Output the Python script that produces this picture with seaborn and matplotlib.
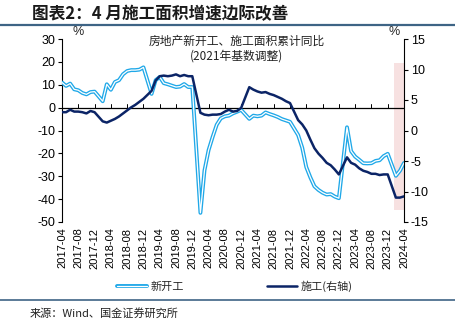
import matplotlib
matplotlib.use("Agg")
import matplotlib.pyplot as plt
import matplotlib.patheffects as pe
from matplotlib.lines import Line2D
import seaborn as sns
import pandas as pd
import numpy as np

sns.set_theme(style="white")
plt.rcParams['font.family'] = ['Liberation Sans', 'Noto Sans CJK SC', 'DejaVu Sans']
plt.rcParams['axes.unicode_minus'] = False
CJK = ['Noto Sans CJK SC', 'DejaVu Sans']

# Months (Jan-Feb reported together, so January is absent)
months = [m for m in pd.date_range('2017-04-01', '2024-04-01', freq='MS') if m.month != 1]

new_starts = [
    11.0, 9.5, 10.5, 8.0, 7.6, 6.4, 5.8, 6.8, 7.0,                          # 2017
    2.8, 10.2, 7.8, 11.2, 12.0, 14.6, 16.0, 16.4, 16.4, 16.6, 17.6,         # 2018
    6.0, 12.0, 13.4, 10.7, 10.2, 9.6, 9.0, 9.2, 10.3, 9.0, 9.0,             # 2019
    -46.0, -27.4, -18.6, -12.8, -7.5, -4.7, -3.8, -3.5, -2.5, -1.8, -1.0,   # 2020
    -4.9, -3.5, -3.8, -3.5, -2.1, -2.8, -3.4, -4.1, -5.0, -5.6, -6.2,       # 2021
    -12.0, -17.5, -26.0, -30.5, -34.4, -36.0, -37.2, -38.0, -37.8, -38.9, -39.6,  # 2022
    -8.6, -19.0, -21.4, -22.8, -24.3, -24.4, -24.3, -23.3, -23.0, -21.2, -20.2,   # 2023
    -29.8, -27.6, -24.2,                                                     # 2024
]
construction = [
    3.0, 3.0, 3.4, 3.1, 3.1, 3.0, 2.8, 3.2, 3.0,
    1.5, 1.3, 1.6, 1.9, 2.3, 2.8, 3.3, 3.8, 4.2, 4.7, 5.2,
    6.5, 8.2, 8.9, 9.0, 8.9, 9.0, 9.2, 8.9, 9.1, 8.9, 8.9,
    2.9, 2.6, 2.5, 2.6, 2.6, 2.7, 3.1, 3.4, 3.1, 3.2, 3.7,
    7.1, 6.7, 6.4, 6.2, 6.3, 6.0, 5.8, 5.5, 5.2, 4.8, 4.5,
    1.7, 1.0, 0.0, -1.5, -2.9, -3.8, -4.5, -5.3, -5.7, -6.4, -7.2,
    -4.4, -5.3, -5.6, -6.2, -6.6, -6.8, -7.1, -7.1, -7.3, -7.2, -7.2,
    -11.0, -11.0, -10.8,
]
tick_labels = ['2017-04', '2017-08', '2017-12', '2018-04', '2018-08', '2018-12',
               '2019-04', '2019-08', '2019-12', '2020-04', '2020-08', '2020-12',
               '2021-04', '2021-08', '2021-12', '2022-04', '2022-08', '2022-12',
               '2023-04', '2023-08', '2023-12', '2024-04']
shade_start, shade_end = '2024-01', '2024-04'

def month_pos(y, m):
    return (y - 2017) * 12 + (m - 4)

df = pd.DataFrame({
    'x': [month_pos(m.year, m.month) for m in months],
    'new': new_starts,
    'con': construction,
})
tick_pos = [month_pos(int(s[:4]), int(s[5:])) for s in tick_labels]

LIGHT = '#1FA8E8'
DARK = '#0B2466'

fig = plt.figure(figsize=(4.56, 3.31), dpi=100)
fig.patch.set_facecolor('white')
ax = fig.add_axes([62/456, 1-222/331, (404-62)/456, (222-39)/331])
ax.set_facecolor('white')

# shaded recent period (right-axis -13..11)
s0 = month_pos(int(shade_start[:4]), int(shade_start[5:])) + 0.6
s1 = month_pos(int(shade_end[:4]), int(shade_end[5:]))
ax.axvspan(s0, s1, ymin=2/30, ymax=26/30, color='#F7E1E1', lw=0, zorder=0)

ax.axhline(0, color='black', lw=0.9, zorder=1)

sns.lineplot(data=df, x='x', y='new', ax=ax, color='white', lw=0.9, zorder=3,
             path_effects=[pe.Stroke(linewidth=2.8, foreground=LIGHT), pe.Normal()])
ax.set_ylim(-50, 30)
ax.set_yticks(np.arange(-50, 31, 10))
ax.set_xlim(0, 84)
ax.set_xlabel('')
ax.set_ylabel('')

ax2 = ax.twinx()
sns.lineplot(data=df, x='x', y='con', ax=ax2, color=DARK, lw=1.8, zorder=4)
ax2.set_ylim(-15, 15)
ax2.set_yticks(np.arange(-15, 16, 5))
ax2.set_ylabel('')
ax2.set_xlim(0, 84)

for a in (ax, ax2):
    a.spines['top'].set_visible(False)
    a.spines['bottom'].set_visible(False)
    a.grid(False)
ax.spines['left'].set_color('black'); ax.spines['left'].set_linewidth(0.8)
ax.spines['right'].set_visible(False)
ax2.spines['left'].set_visible(False)
ax2.spines['right'].set_color('black'); ax2.spines['right'].set_linewidth(0.8)

ax.tick_params(axis='y', direction='out', length=3, width=0.8, color='black',
               labelsize=9, labelcolor='black', pad=2, left=True)
ax2.tick_params(axis='y', direction='out', length=3, width=0.8, color='black',
                labelsize=9, labelcolor='black', pad=2, right=True)

# tick marks on zero line, pointing up
ax.set_xticks(tick_pos)
ax.tick_params(axis='x', bottom=False, labelbottom=False)
for tp in tick_pos:
    ax.plot([tp, tp], [0, 1.4], color='black', lw=0.7, zorder=1)

sec = ax.secondary_xaxis('bottom')
sec.set_xticks(tick_pos)
sec.set_xticklabels(tick_labels, rotation=90, fontsize=8, color='black')
sec.tick_params(axis='x', length=0, pad=4)
sec.spines['bottom'].set_visible(False)

ax.text(0.03, 1.005, '%', transform=ax.transAxes, fontsize=9, ha='left', va='bottom')
ax.text(0.955, 1.005, '%', transform=ax.transAxes, fontsize=9, ha='left', va='bottom')

ax.text(0.51, 0.99, '房地产新开工、施工面积累计同比', transform=ax.transAxes,
        fontsize=8.5, ha='center', va='center', family=CJK, color='#222222')
ax.text(0.51, 0.905, '(2021年基数调整)', transform=ax.transAxes,
        fontsize=8.5, ha='center', va='center', family=CJK, color='#222222')

# title and frame lines
fig.text(32/456, 1-14/331, '图表2：4 月施工面积增速边际改善', fontsize=12,
         fontweight='bold', style='italic', family=CJK, color='#1a1a1a',
         ha='left', va='center')
fig.add_artist(Line2D([0, 1], [1-25/331, 1-25/331], color='#3E6485', lw=1.6))
fig.add_artist(Line2D([0, 1], [1-300/331, 1-300/331], color='#3E6485', lw=1.2))
fig.text(30/456, 1-313/331, '来源：Wind、国金证券研究所', fontsize=8, family=CJK,
         color='#222222', ha='left', va='center')

h1 = Line2D([], [], color='white', lw=0.9,
            path_effects=[pe.Stroke(linewidth=2.8, foreground=LIGHT), pe.Normal()])
h2 = Line2D([], [], color=DARK, lw=1.8)
leg = fig.legend([h1, h2], ['新开工', '施工(右轴)'], loc='center',
                 bbox_to_anchor=(0.515, 1-286/331), ncol=2, frameon=False,
                 prop={'family': CJK, 'size': 8}, handlelength=2.7,
                 columnspacing=7.5, handletextpad=0.3)

fig.savefig('out.png', dpi=100, facecolor='white')
